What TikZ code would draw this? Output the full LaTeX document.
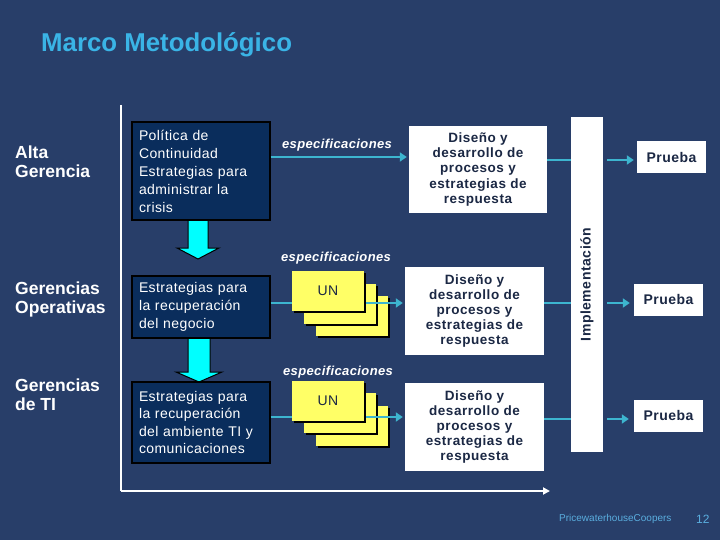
\documentclass[tikz,border=0pt]{standalone}
\usepackage{fontspec}
\setmainfont{Liberation Sans}
\newfontfamily\spc[LetterSpace=4]{Liberation Sans}
\newfontfamily\spcb[LetterSpace=3]{Liberation Sans}
\usetikzlibrary{arrows.meta}
\definecolor{bg}{HTML}{283E69}
\definecolor{navy}{HTML}{0A2D5C}
\definecolor{ttl}{HTML}{3AB4E6}
\definecolor{conn}{HTML}{3DB5CF}
\definecolor{dtext}{HTML}{1B2844}
\definecolor{yel}{HTML}{FFFF66}
\definecolor{foot}{HTML}{5AAEDF}
\definecolor{cyanfill}{HTML}{00FFFF}
\tikzset{
  darkbox/.style={draw=black, line width=1.3pt, fill=navy, text=white, align=left,
    text width=124pt, inner xsep=7pt, inner ysep=0pt, minimum width=138pt,
    font=\spcb\fontsize{14}{18}\selectfont},
  whitebox/.style={fill=white, text=dtext, align=center, inner sep=0pt,
    font=\spc\bfseries\fontsize{13.5}{15.2}\selectfont},
  prueba/.style={fill=white, text=dtext, inner sep=0pt, minimum width=69pt, minimum height=32pt,
    font=\spcb\bfseries\fontsize{14}{16}\selectfont},
  level/.style={text=white, align=left, anchor=west, inner sep=0pt,
    font=\bfseries\fontsize{17.5}{19}\selectfont},
  spec/.style={text=white, inner sep=0pt, font=\spcb\bfseries\itshape\fontsize{13}{15}\selectfont},
  conn/.style={draw=conn, line width=2pt},
  connarrow/.style={conn, -{Triangle[length=7pt,width=9pt]}},
  card/.style={fill=yel, minimum width=72pt, minimum height=40pt, inner sep=0pt,
    text=dtext, font=\spcb\fontsize{14}{16}\selectfont},
  cardshadow/.style={fill=black},
  blockarrow/.style={fill=cyanfill, draw=black, line width=1pt, line join=miter},
  axis/.style={draw=white, line width=2pt},
}
\begin{document}
\begin{tikzpicture}[x=1pt,y=-1pt]
\fill[bg] (0,0) rectangle (720,540);
\useasboundingbox (0,0) rectangle (720,540);

% title
\node[anchor=base west, inner sep=0pt, text=ttl, font=\bfseries\fontsize{25.8}{30}\selectfont] (title) at (41,52) {Marco Metodológico};

% axes
\coordinate (ytop) at (121,105);
\coordinate (origin) at (121,491);
\coordinate (xend) at (550,491);
\draw[axis] (ytop) -- (origin);
\draw[axis, -{Triangle[length=7pt,width=7pt]}] (origin) -- (xend);

% level labels
\node[level] (l1) at (15,162) {Alta\\Gerencia};
\node[level] (l2) at (15,299) {Gerencias\\Operativas};
\node[level] (l3) at (15,395) {Gerencias\\de TI};

% block arrows
\draw[blockarrow] (188,219) -- (188,248) -- (177,248) -- (198,259) -- (219,248) -- (208,248) -- (208,219);
\draw[blockarrow] (188,337) -- (188,372) -- (176,372) -- (199,382) -- (222,372) -- (210,372) -- (210,337);

% dark boxes
\node[darkbox, minimum height=98pt] (b1) at (201,171) {Política de\\Continuidad\\Estrategias para\\administrar la\\crisis};
\node[darkbox, minimum height=62pt] (b2) at (201,307) {Estrategias para\\la recuperación\\del negocio};
\node[darkbox, minimum height=81pt, font=\spcb\fontsize{14}{17.5}\selectfont] (b3) at (201,422.5) {Estrategias para\\la recuperación\\del ambiente TI y\\comunicaciones};

% design boxes
\node[whitebox, minimum width=138pt, minimum height=87pt] (d1) at (478,169.5) {Diseño y\\desarrollo de\\procesos y\\estrategias de\\respuesta};
\node[whitebox, minimum width=139pt, minimum height=88pt] (d2) at (474.5,311) {Diseño y\\desarrollo de\\procesos y\\estrategias de\\respuesta};
\node[whitebox, minimum width=139pt, minimum height=88pt] (d3) at (474.5,427) {Diseño y\\desarrollo de\\procesos y\\estrategias de\\respuesta};

% implementation bar
\node[fill=white, minimum width=32pt, minimum height=335pt, inner sep=0pt] (bar) at (587,284.5) {};
\node[rotate=90, text=dtext, inner sep=0pt, font=\spc\bfseries\fontsize{14}{16}\selectfont] (impl) at (bar.center) {Implementación};

% prueba boxes
\node[prueba] (p1) at (671.5,157.5) {Prueba};
\node[prueba] (p2) at (668.5,299.5) {Prueba};
\node[prueba] (p3) at (668.5,415.5) {Prueba};

% spec labels
\node[spec] (s1) at (337,145) {especificaciones};
\node[spec] (s2) at (336,258) {especificaciones};
\node[spec] (s3) at (338,372) {especificaciones};

% row 1 connectors
\draw[connarrow, shorten >=2pt] (b1.east |- 0,157) -- (d1.west |- 0,157);
\draw[conn] (d1.east |- 0,160) -- (bar.west |- 0,160);
\draw[connarrow, shorten <=4pt, shorten >=3pt] (bar.east |- 0,160) -- (p1.west |- 0,160);

% row 2: stack and connectors
\fill[cardshadow] (318,298) rectangle (390,338);
\node[card] (c23) at (352,316) {};
\fill[cardshadow] (306,286) rectangle (378,326);
\node[card] (c22) at (340,304) {};
\draw[connarrow, shorten >=2pt] (b2.east |- 0,303) -- (d2.west |- 0,303);
\fill[cardshadow] (294,273) rectangle (366,313);
\node[card] (c21) at (328,291) {UN};
\draw[conn] (d2.east |- 0,303) -- (bar.west |- 0,303);
\draw[connarrow, shorten <=4pt, shorten >=4pt] (bar.east |- 0,303) -- (p2.west |- 0,303);

% row 3: stack and connectors
\fill[cardshadow] (318,408) rectangle (390,448);
\node[card] (c33) at (352,426) {};
\fill[cardshadow] (306,395) rectangle (378,435);
\node[card] (c32) at (340,413) {};
\draw[connarrow, shorten >=2pt] (b3.east |- 0,417) -- (d3.west |- 0,417);
\fill[cardshadow] (294,383) rectangle (366,423);
\node[card] (c31) at (328,401) {UN};
\draw[conn] (d3.east |- 0,419) -- (bar.west |- 0,419);
\draw[connarrow, shorten <=4pt, shorten >=5pt] (bar.east |- 0,419) -- (p3.west |- 0,419);

% footer
\node[anchor=base west, inner sep=0pt, text=foot, font=\fontsize{10}{12}\selectfont] (pwc) at (559,521) {PricewaterhouseCoopers};
\node[anchor=base west, inner sep=0pt, text=foot, font=\fontsize{12}{14}\selectfont] (pg) at (696,523) {12};
\end{tikzpicture}
\end{document}
